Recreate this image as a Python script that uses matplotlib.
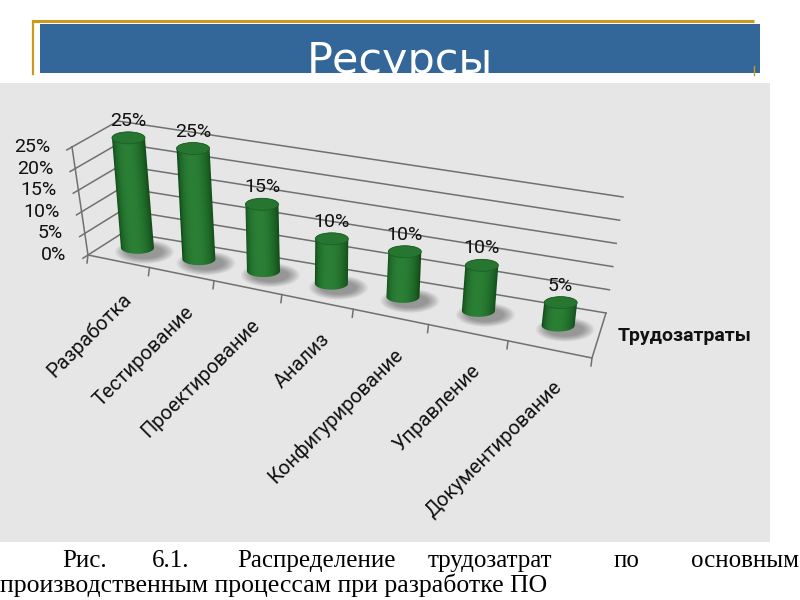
import numpy as np
import matplotlib.pyplot as plt
from matplotlib.patches import Rectangle, Polygon, Ellipse

# data
categories = ['Разработка', 'Тестирование', 'Проектирование', 'Анализ',
              'Конфигурирование', 'Управление', 'Документирование']
shares = [25, 25, 15, 10, 10, 10, 5]
y_ticks = [0, 5, 10, 15, 20, 25]
series_name = 'Трудозатраты'
title = 'Ресурсы'
caption_words = ['Рис.', '6.1.', 'Распределение', 'трудозатрат', 'по', 'основным']
caption_line2 = 'производственным процессам при разработке ПО'

# pseudo 3d box, screen pixels (y down)
FL, FR, BR, BL = np.array([88, 255]), np.array([592, 358]), np.array([606, 313]), np.array([124, 232])
UFL, UFR, UBR, UBL = np.array([-16, -108]), np.array([12, -114]), np.array([17, -116]), np.array([-6, -111])
ZMAX = 25
PERSP = 1.2
DEPTH = 0.55

def warp(u):
    # right side is closer to the viewer
    return u / (PERSP * (1 - u) + u)

def proj(u, d, v):
    s = warp(u)
    p = (1-s)*(1-d)*FL + s*(1-d)*FR + s*d*BR + (1-s)*d*BL
    up = (1-s)*(1-d)*UFL + s*(1-d)*UFR + s*d*UBR + (1-s)*d*UBL
    return p + up * v / ZMAX

fig = plt.figure(figsize=(8, 6), dpi=100)
ax = fig.add_axes([0, 0, 1, 1])
ax.axis('off')

# slide header
gold = '#c99a1e'
ax.plot([33, 754], [21, 21], color=gold, lw=2.2, solid_capstyle='butt')
ax.plot([33, 33], [21, 74], color=gold, lw=1.6)
ax.plot([754, 754], [66, 75], color=gold, lw=1.0)
banner = Rectangle((40, 24), 720, 49, facecolor='#336699', edgecolor='none')
ax.add_patch(banner)
t = ax.text(400, 73, title, color='white', fontsize=31, family='DejaVu Sans',
            ha='center', va='baseline')
t.set_clip_path(banner)

# chart panel
ax.add_patch(Rectangle((0, 83), 770, 459, facecolor='#e6e6e6', edgecolor='none', zorder=0))

grid_c = '#707070'
lab_font = ['Roboto', 'DejaVu Sans']
for v in y_ticks:
    pts = np.array([proj(0, 0, v), proj(0, 1, v), proj(1, 1, v)])
    ax.plot(pts[:, 0], pts[:, 1], color=grid_c, lw=1.1, zorder=1)
    a, b = proj(0, 1, v), proj(0, 0, v)
    dvec = (b - a) / np.hypot(*(b - a))
    tk = b + dvec * 6
    ax.plot([b[0], tk[0]], [b[1], tk[1]], color=grid_c, lw=1.1, zorder=1)
    ax.text(b[0] - 22, b[1], f'{v}%', fontsize=14, family=lab_font,
            ha='right', va='center', color='#111111')

# axis edges
e = np.array([proj(0, 0, 0), proj(0, 0, ZMAX)])
ax.plot(e[:, 0], e[:, 1], color=grid_c, lw=1.1, zorder=1)
e = np.array([proj(0, 0, 0), proj(1, 0, 0), proj(1, 1, 0)])
ax.plot(e[:, 0], e[:, 1], color=grid_c, lw=1.1, zorder=1)
n = len(categories)
for k in range(n + 1):
    p = proj(k / n, 0, 0)
    ax.plot([p[0], p[0] - 1], [p[1], p[1] + 8], color=grid_c, lw=1.1, zorder=1)

dark = np.array([0.05, 0.27, 0.08])
light = np.array([0.17, 0.50, 0.21])

def shade(tt):
    k = np.clip(np.sin(np.pi * np.clip(tt, 0, 1) ** 0.8), 0, 1) ** 0.6
    return dark + (light - dark) * k[..., None]

RX, RY = 16.5, 6
for i, (cat, val) in enumerate(zip(categories, shares)):
    u = (i + 0.5) / n
    base = proj(u, DEPTH, 0)
    top = proj(u, DEPTH, val)
    # soft shadow
    for k in range(9):
        ax.add_patch(Ellipse((base[0] + 7, base[1] + 4), 2 * RX + 26 - 2.8 * k, 2 * RY + 12 - 1.3 * k,
                             facecolor='black', edgecolor='none', alpha=0.045, zorder=2))
    # body with horizontal shading following the lean
    th = np.linspace(np.pi, 0, 60)
    front = np.column_stack([base[0] + RX * np.cos(th), base[1] + RY * np.sin(th)])
    th2 = np.linspace(0, -np.pi, 60)
    back = np.column_stack([top[0] + RX * np.cos(th2), top[1] + RY * np.sin(th2)])
    body = Polygon(np.vstack([front, back]), closed=True, transform=ax.transData)
    x0 = min(base[0], top[0]) - RX - 2
    x1 = max(base[0], top[0]) + RX + 2
    y0, y1 = top[1] - RY - 2, base[1] + RY + 2
    X, Y = np.meshgrid(np.linspace(x0, x1, 120), np.linspace(y0, y1, 200))
    frac = np.clip((base[1] - Y) / (base[1] - top[1]), 0, 1)
    cx = base[0] + (top[0] - base[0]) * frac
    img = shade((X - cx + RX) / (2 * RX))
    im = ax.imshow(img, extent=[x0, x1, y1, y0], origin='upper', aspect='auto',
                   interpolation='bilinear', zorder=3)
    im.set_clip_path(body)
    ax.add_patch(Ellipse(top, 2 * RX, 2 * RY, facecolor='#267530', edgecolor='#1d5f24', lw=0.6, zorder=3.5))
    ax.text(top[0], top[1] - 17, f'{val}%', fontsize=14, family=lab_font,
            ha='center', va='center', color='#111111', zorder=4)
    f = proj(u, 0, 0)
    ax.text(f[0] + 3, f[1] + 28, cat, fontsize=14.5, family=lab_font, rotation=45,
            rotation_mode='anchor', ha='right', va='top', color='#111111')

ax.text(618, 336, series_name, fontsize=14, fontweight='bold', family=lab_font,
        ha='left', va='center', color='#111111')

# caption
cap_x = [62, 152, 237, 428, 614, 691]
for w, x in zip(caption_words, cap_x):
    ax.text(x, 567, w, fontsize=18, family='Liberation Serif', ha='left', va='baseline', color='black')
ax.text(0, 592, caption_line2, fontsize=18.5, family='Liberation Serif', ha='left', va='baseline', color='black')

ax.set_xlim(0, 800)
ax.set_ylim(600, 0)
fig.savefig('out.png', dpi=100, facecolor='white')
